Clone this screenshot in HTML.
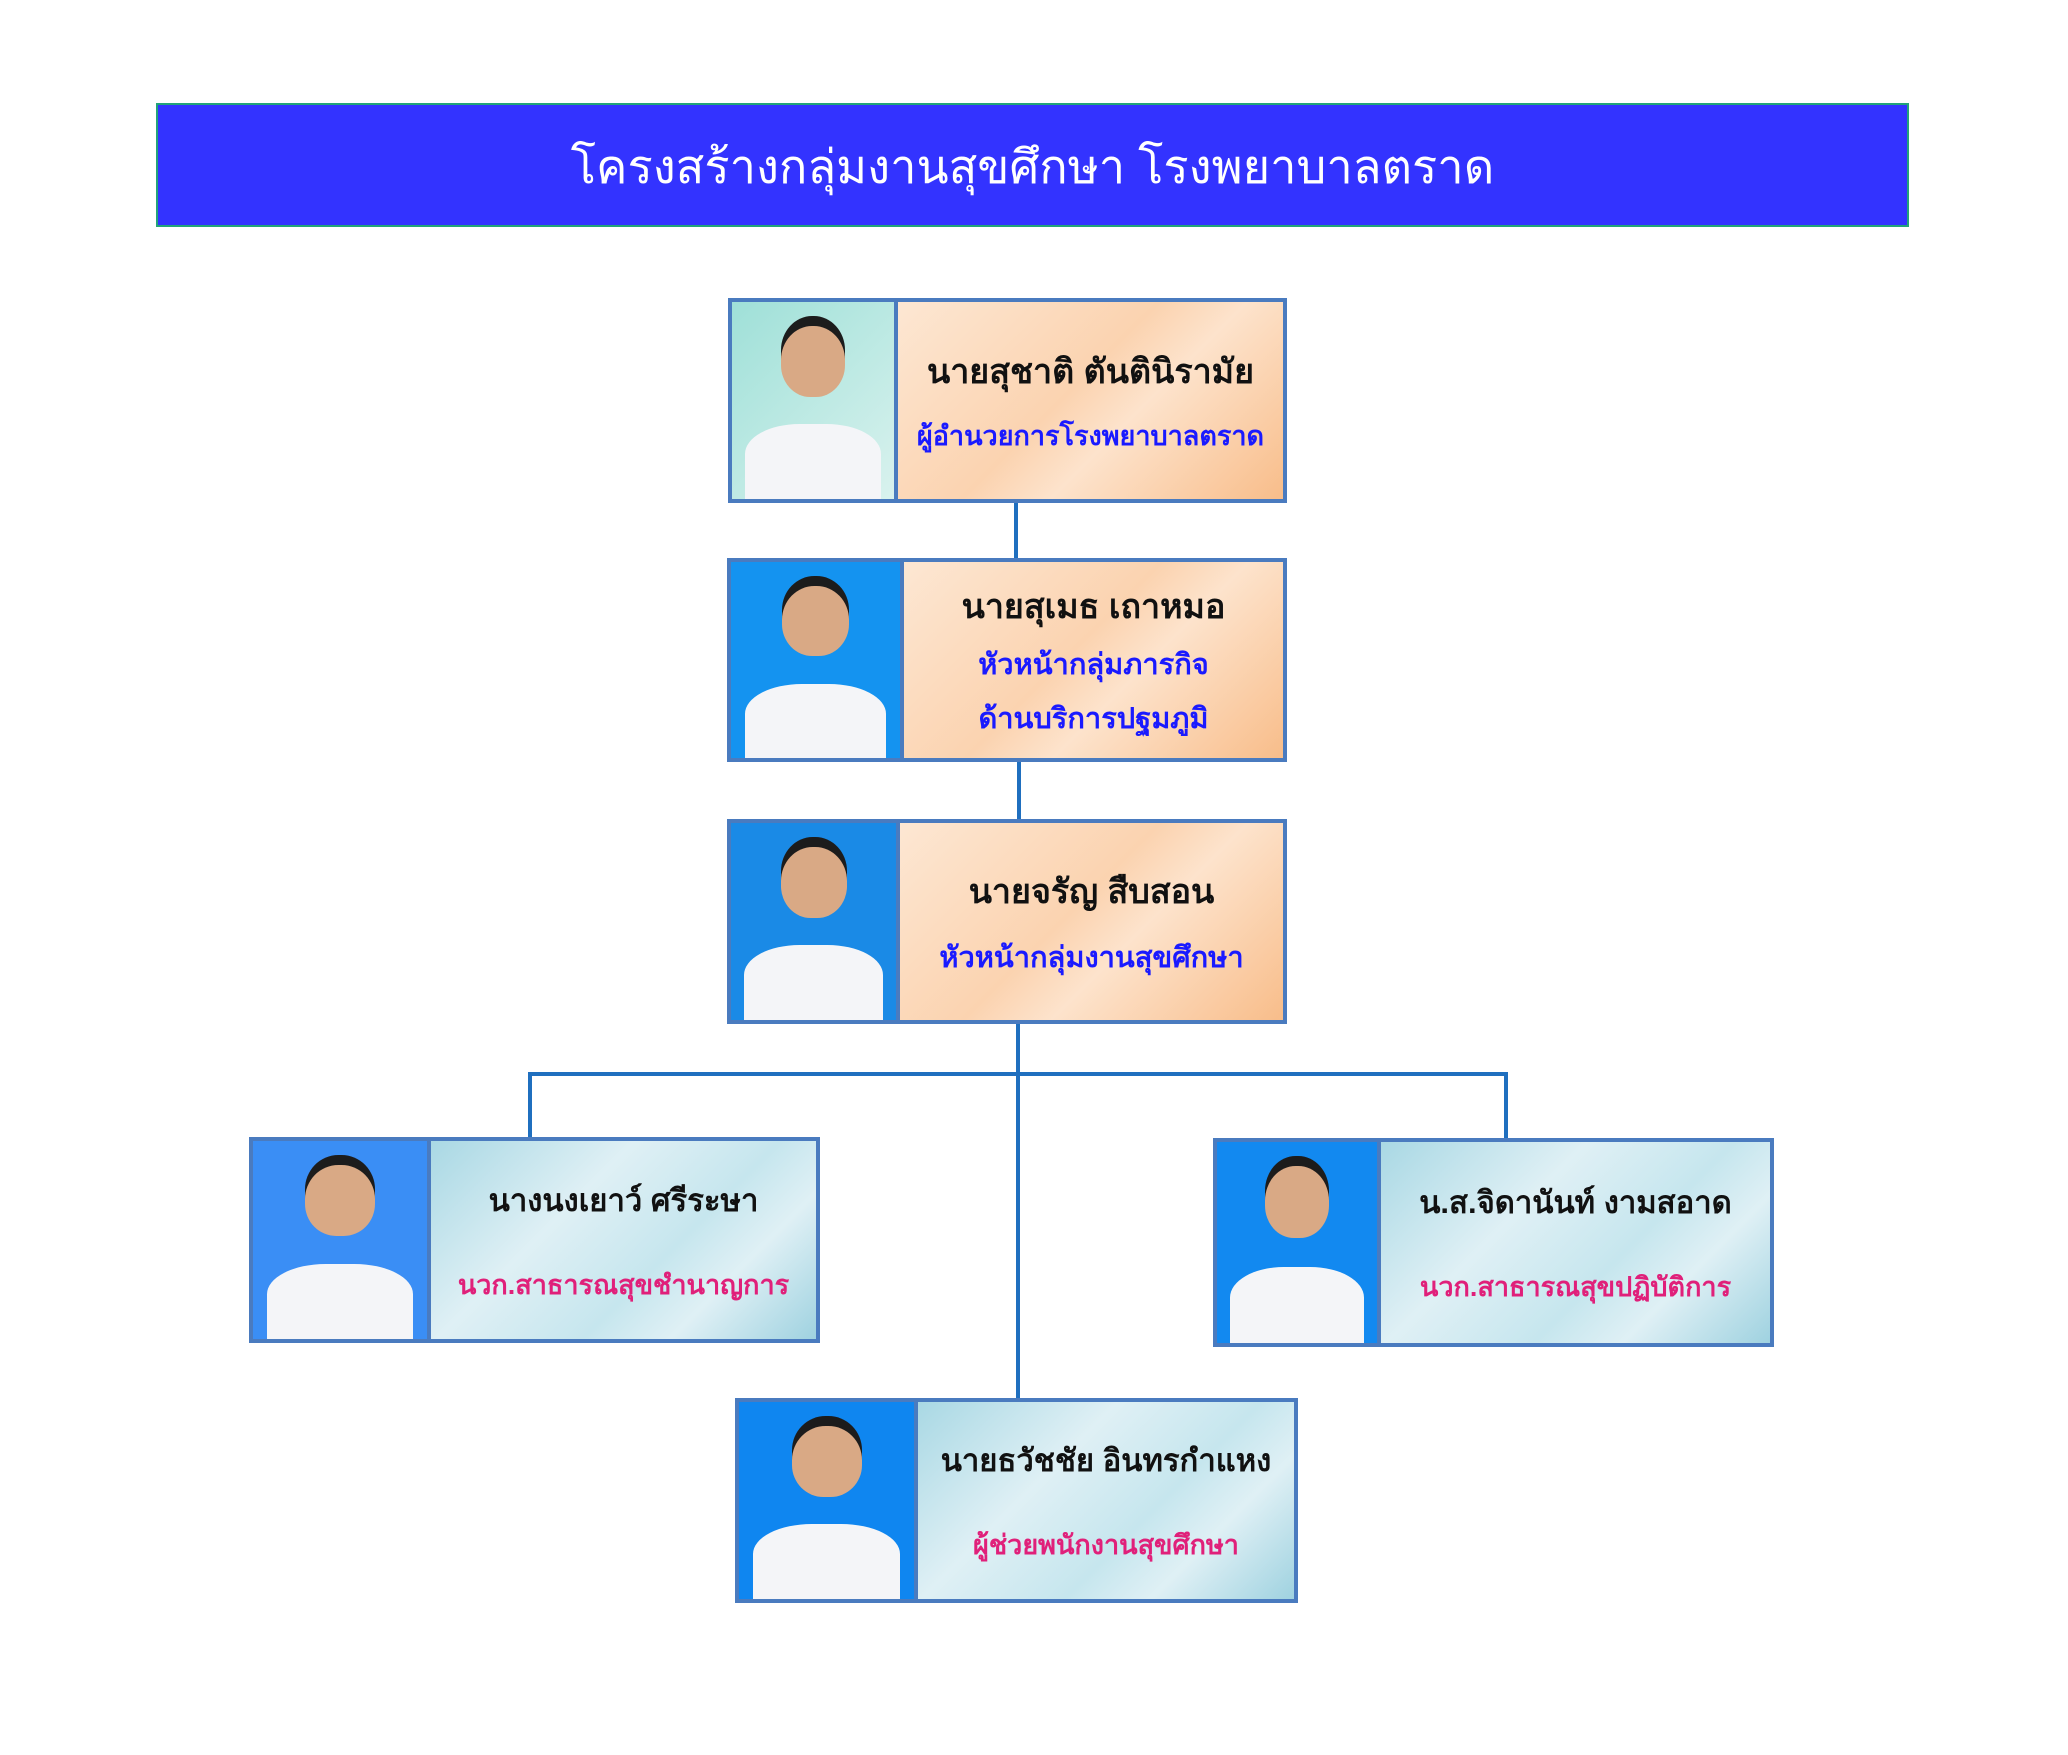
<!DOCTYPE html>
<html><head><meta charset="utf-8"><style>
*{margin:0;padding:0;box-sizing:border-box}
body{width:2068px;height:1755px;background:#fff;position:relative;overflow:hidden;font-family:"Liberation Sans","DejaVu Sans",sans-serif}
.hdr{position:absolute;left:156px;top:103px;width:1753px;height:124px;background:#3333ff;border:2px solid #22a37a;color:#fff;font-size:47px;text-align:center;line-height:124px}
.box{position:absolute;border:4px solid #4a7bbf;display:flex}
.ph{height:100%;position:relative;overflow:hidden;border-right:4px solid #4a7bbf}
.tx{flex:1;display:flex;flex-direction:column;justify-content:center;align-items:center;text-align:center}
.or{background:linear-gradient(135deg,#fde7d3 0%,#fbd3b0 45%,#fde3cc 60%,#f8bd8a 100%)}
.bl{background:linear-gradient(135deg,#a9d8e4 0%,#dff0f5 35%,#c6e6ee 60%,#dff0f5 75%,#9fd2e0 100%)}
.n{font-size:34px;color:#111;font-weight:bold}
.t{font-size:27px;color:#1a1aff;margin-top:16px;font-weight:bold}
.p{font-size:27px;color:#e0207a;margin-top:38px;font-weight:bold}
.n2{font-size:31px;color:#111;font-weight:bold}
.ln{position:absolute;background:#1f6fbf}
.head{position:absolute;left:50%;top:12%;width:40%;height:36%;margin-left:-20%;border-radius:48% 48% 45% 45%;background:#d9a985;box-shadow:0 -10px 0 #1c1c1c}
.body{position:absolute;left:8%;bottom:0;width:84%;height:38%;border-radius:40% 40% 0 0;background:#f4f5f8}
</style></head><body>
<div class="hdr">โครงสร้างกลุ่มงานสุขศึกษา โรงพยาบาลตราด</div>

<div class="ln" style="left:1014px;top:503px;width:4px;height:55px"></div>
<div class="ln" style="left:1017px;top:762px;width:4px;height:57px"></div>
<div class="ln" style="left:1016px;top:1024px;width:4px;height:374px"></div>
<div class="ln" style="left:528px;top:1072px;width:980px;height:4px"></div>
<div class="ln" style="left:528px;top:1072px;width:4px;height:66px"></div>
<div class="ln" style="left:1504px;top:1072px;width:4px;height:66px"></div>

<div class="box" style="left:728px;top:298px;width:559px;height:205px">
<div class="ph" style="width:166px;background:linear-gradient(135deg,#9fe0d8,#d9f2ee)"><div class="head"></div><div class="body"></div></div>
<div class="tx or"><div class="n">นายสุชาติ ตันตินิรามัย</div><div class="t">ผู้อำนวยการโรงพยาบาลตราด</div></div></div>

<div class="box" style="left:727px;top:558px;width:560px;height:204px">
<div class="ph" style="width:173px;background:#1493f0"><div class="head"></div><div class="body"></div></div>
<div class="tx or"><div class="n">นายสุเมธ เถาหมอ</div><div class="t" style="margin-top:8px;font-size:29px">หัวหน้ากลุ่มภารกิจ</div><div class="t" style="margin-top:8px;font-size:29px">ด้านบริการปฐมภูมิ</div></div></div>

<div class="box" style="left:727px;top:819px;width:560px;height:205px">
<div class="ph" style="width:169px;background:#1a8ae6"><div class="head"></div><div class="body"></div></div>
<div class="tx or"><div class="n">นายจรัญ สืบสอน</div><div class="t" style="font-size:29px">หัวหน้ากลุ่มงานสุขศึกษา</div></div></div>

<div class="box" style="left:249px;top:1137px;width:571px;height:206px">
<div class="ph" style="width:178px;background:#3a8ef5"><div class="head"></div><div class="body"></div></div>
<div class="tx bl"><div class="n2">นางนงเยาว์ ศรีระษา</div><div class="p">นวก.สาธารณสุขชำนาญการ</div></div></div>

<div class="box" style="left:1213px;top:1138px;width:561px;height:209px">
<div class="ph" style="width:164px;background:#1289f0"><div class="head"></div><div class="body"></div></div>
<div class="tx bl"><div class="n2">น.ส.จิดานันท์ งามสอาด</div><div class="p">นวก.สาธารณสุขปฏิบัติการ</div></div></div>

<div class="box" style="left:735px;top:1398px;width:563px;height:205px">
<div class="ph" style="width:179px;background:#0f86f0"><div class="head"></div><div class="body"></div></div>
<div class="tx bl"><div class="n2">นายธวัชชัย อินทรกำแหง</div><div class="p">ผู้ช่วยพนักงานสุขศึกษา</div></div></div>
</body></html>
